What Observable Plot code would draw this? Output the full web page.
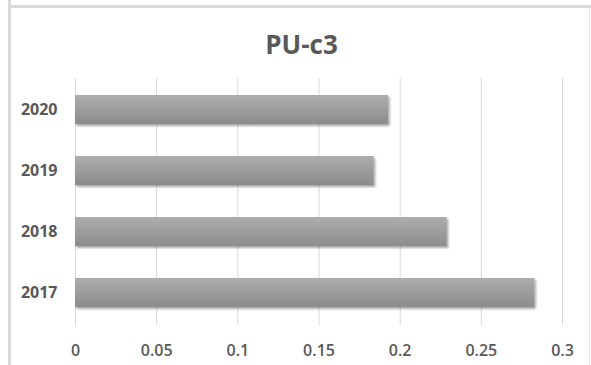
<!DOCTYPE html>
<html>
<head>
<meta charset="utf-8">
<script src="https://cdn.jsdelivr.net/npm/d3@7"></script>
<script src="https://cdn.jsdelivr.net/npm/@observablehq/plot@0.6"></script>
<style>
  html, body { margin: 0; padding: 0; background: #fff; }
  #wrap { position: relative; width: 591px; height: 365px; overflow: hidden; background: #fff; }
  #frameTop { position: absolute; left: 8px; top: 5px; width: 583px; height: 3px; background: #d9d9d9; }
  #frameLeft { position: absolute; left: 8px; top: 0; width: 3px; height: 365px; background: #d9d9d9; }
  #frameRight { position: absolute; left: 589px; top: 8px; width: 1px; height: 357px; background: #e6e6e6; }
  #title { position: absolute; left: 10px; width: 583px; top: 27px; text-align: center;
           font-family: "Open Sans", sans-serif; font-weight: 700; font-size: 26px; color: #595959; line-height: 34px; }
  #chart { position: absolute; left: 0; top: 0; }
</style>
</head>
<body>
<div id="wrap">
  <div id="chart"></div>
  <div id="frameTop"></div>
  <div id="frameLeft"></div>
  <div id="frameRight"></div>
  <div id="title"></div>
</div>
<script>
const years = ["2020", "2019", "2018", "2017"];
const values = [0.193, 0.184, 0.229, 0.283];
const xTicks = [0, 0.05, 0.1, 0.15, 0.2, 0.25, 0.3];
const xTickLabels = ["0", "0.05", "0.1", "0.15", "0.2", "0.25", "0.3"];
const title = "PU-c3";
document.getElementById("title").textContent = title;

const data = years.map((y, i) => ({year: y, value: values[i]}));

const chart = Plot.plot({
  width: 591,
  height: 365,
  marginTop: 77.5,
  marginBottom: 40,
  marginLeft: 75,
  marginRight: 29,
  style: {fontFamily: "'Open Sans', sans-serif", color: "#595959", background: "transparent"},
  x: {domain: [0, 0.3], label: null},
  y: {domain: years, paddingInner: 0.53, paddingOuter: 0.265, label: null},
  marks: [
    Plot.gridX(xTicks, {stroke: "#d9d9d9", strokeOpacity: 1, strokeWidth: 1}),
    Plot.barX(data, {x: "value", y: "year", fill: "url(#barGrad)",
      render: (index, scales, values, dims, context, next) => {
        const g = next(index, scales, values, dims, context);
        g.setAttribute("filter", "url(#barShadow)");
        return g;
      }}),
    Plot.axisX(xTicks, {tickSize: 0, tickPadding: 19, label: null,
      tickFormat: (d) => xTickLabels[xTicks.indexOf(d)],
      fontSize: 16, fontWeight: 600, fill: "#595959"}),
    Plot.axisY(years, {tickSize: 0, tickPadding: 18, label: null, fontSize: 16, fontWeight: 700, fill: "#595959"})
  ]
});

const ns = "http://www.w3.org/2000/svg";
const defs = document.createElementNS(ns, "defs");
defs.innerHTML = `
  <linearGradient id="barGrad" x1="0" y1="0" x2="0" y2="1">
    <stop offset="0" stop-color="#adadad"/>
    <stop offset="1" stop-color="#8c8c8c"/>
  </linearGradient>
  <filter id="barShadow" x="-5%" y="-20%" width="110%" height="150%">
    <feDropShadow dx="1.5" dy="2" stdDeviation="1.3" flood-color="#000" flood-opacity="0.35"/>
  </filter>`;
chart.insertBefore(defs, chart.firstChild);
document.getElementById("chart").appendChild(chart);
</script>
</body>
</html>
